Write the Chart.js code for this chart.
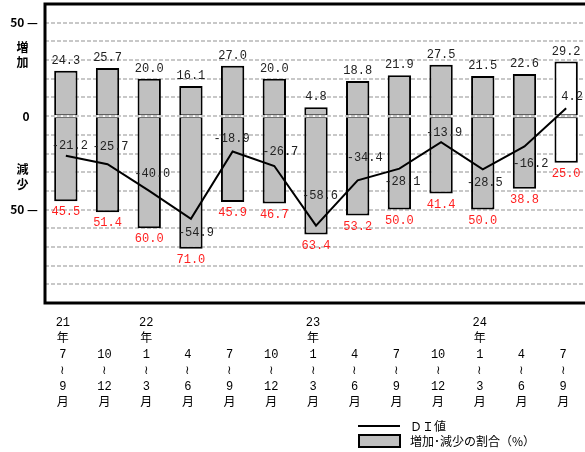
<!DOCTYPE html>
<html><head><meta charset="utf-8">
<script src="https://cdn.jsdelivr.net/npm/chart.js@4.4.0/dist/chart.umd.min.js"></script>
<style>html,body{margin:0;padding:0;overflow:hidden;background:#fff}#wrap{width:590px;height:452px;position:relative}</style>
</head><body><div id="wrap"><canvas id="c"></canvas></div>
<script>
// ---- data ----
const yearLabels  = ["21","","22","","","","23","","","","24","",""];
const startMonths = ["7","10","1","4","7","10","1","4","7","10","1","4","7"];
const endMonths   = ["9","12","3","6","9","12","3","6","9","12","3","6","9"];
const increase = [24.3,25.7,20.0,16.1,27.0,20.0,4.8,18.8,21.9,27.5,21.5,22.6,29.2];
const decrease = [45.5,51.4,60.0,71.0,45.9,46.7,63.4,53.2,50.0,41.4,50.0,38.8,25.0];
const diValues = [-21.2,-25.7,-40.0,-54.9,-18.9,-26.7,-58.6,-34.4,-28.1,-13.9,-28.5,-16.2,4.2];
const yMin = -100, yMax = 60, yStep = 10;
const legendLine = "ＤＩ値";
const legendBar = "増加･減少の割合（%）";

// ---- styling (not data) ----
const GRAY = '#c0c0c0';
const lastWhite = increase.map((v,i)=> i===increase.length-1 ? '#ffffff' : GRAY);
const diLabelShift = [[4,-10],[3,-17],[3,-17],[5,14],[-1,-13],[6,-14],[4,-30],[7,-23],[3,13],[3,-9],[2,13],[6,17],[6,-11]];
const MONO = '"Liberation Mono","Noto Sans CJK JP",monospace';

const categories = yearLabels.map((y,i)=>[y, y ? '年' : '', startMonths[i], '≀', endMonths[i], '月']);

const overlay = {
  id:'overlay',
  afterDatasetsDraw(chart){
    const ctx = chart.ctx, a = chart.chartArea, ys = chart.scales.y;
    ctx.save();
    ctx.strokeStyle = '#000'; ctx.lineWidth = 3;
    ctx.strokeRect(a.left, a.top, a.right - a.left, a.bottom - a.top);
    ctx.font = '12px ' + MONO; ctx.textAlign = 'center'; ctx.textBaseline = 'middle';
    const inc = chart.getDatasetMeta(0), dec = chart.getDatasetMeta(1), ln = chart.getDatasetMeta(2);
    inc.data.forEach((el,i)=>{ ctx.fillStyle='#222'; ctx.fillText(increase[i].toFixed(1), el.x, el.y - 10); });
    dec.data.forEach((el,i)=>{ ctx.fillStyle='#ff2020'; ctx.fillText(decrease[i].toFixed(1), el.x, el.y + 11); });
    ln.data.forEach((el,i)=>{ ctx.fillStyle='#222'; ctx.fillText(diValues[i].toFixed(1), el.x + diLabelShift[i][0], el.y + diLabelShift[i][1]); });
    // left axis labels
    ctx.fillStyle = '#000';
    ctx.font = 'bold 12px "Noto Sans CJK JP","Liberation Sans",sans-serif';
    ctx.textAlign = 'right';
    ctx.fillText('50 —', 38, ys.getPixelForValue(50));
    ctx.fillText('50 —', 38, ys.getPixelForValue(-50));
    ctx.textAlign = 'center';
    ctx.fillText('0', 26, ys.getPixelForValue(0));
    ctx.fillText('増', 22.5, ys.getPixelForValue(36.6));
    ctx.fillText('加', 22.5, ys.getPixelForValue(28.5));
    ctx.fillText('減', 22.5, ys.getPixelForValue(-28.5));
    ctx.fillText('少', 22.5, ys.getPixelForValue(-36.6));
    // legend
    ctx.strokeStyle = '#000'; ctx.lineWidth = 2;
    ctx.beginPath(); ctx.moveTo(358, 426); ctx.lineTo(400, 426); ctx.stroke();
    ctx.fillStyle = GRAY; ctx.fillRect(359, 435, 41, 12);
    ctx.strokeRect(359, 435, 41, 12);
    ctx.fillStyle = '#000'; ctx.textAlign = 'left';
    ctx.font = '12px "Noto Sans CJK JP",sans-serif';
    ctx.fillText(legendLine, 410, 426);
    ctx.fillText(legendBar, 410, 441);
    ctx.restore();
  }
};

new Chart(document.getElementById('c'), {
  data: {
    labels: categories,
    datasets: [
      { type:'bar', label:'増加', data: increase, backgroundColor: lastWhite, borderColor:'#000',
        borderWidth:{top:2,left:2,right:2,bottom:1}, borderSkipped:false, grouped:false,
        categoryPercentage:1, barPercentage:0.56, order:2 },
      { type:'bar', label:'減少', data: decrease.map(v=>-v), backgroundColor: lastWhite, borderColor:'#000',
        borderWidth:{top:1,left:2,right:2,bottom:2}, borderSkipped:false, grouped:false,
        categoryPercentage:1, barPercentage:0.56, order:2 },
      { type:'line', label:'ＤＩ値', data: diValues, borderColor:'#000', borderWidth:2,
        pointRadius:0, tension:0, fill:false, order:0 }
    ]
  },
  options: {
    responsive:true, maintainAspectRatio:false, animation:false, devicePixelRatio:1,
    layout:{ padding:{ left:45, right:3, top:4, bottom:29 } },
    plugins:{ legend:{display:false}, tooltip:{enabled:false} },
    scales:{
      x:{ grid:{display:false, drawTicks:false}, border:{display:false},
          ticks:{ autoSkip:false, maxRotation:0, padding:12, labelOffset:-3, color:'#000',
                  font:{ family: MONO, size:12, lineHeight:'16px' } } },
      y:{ min:yMin, max:yMax, grid:{ color:'#c8c8c8', lineWidth:2, drawTicks:false },
          border:{display:false, dash:[4,2]},
          ticks:{ display:false, stepSize:yStep } }
    }
  },
  plugins:[overlay]
});
</script>
</body></html>
